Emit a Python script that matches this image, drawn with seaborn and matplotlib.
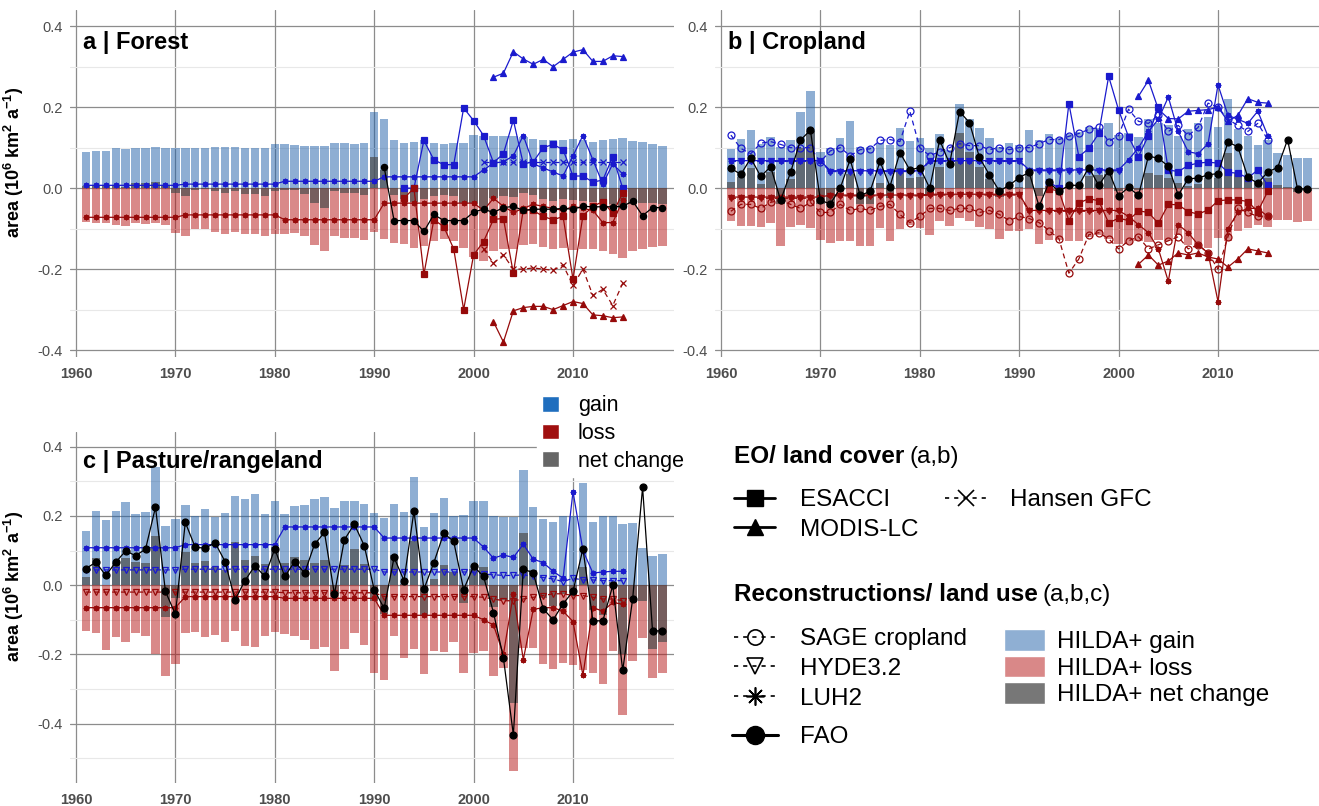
import numpy as np
import pandas as pd
import matplotlib.pyplot as plt
import seaborn as sns
from matplotlib.lines import Line2D
from matplotlib.patches import Patch

# ---------------- data (10^6 km2 per year) ----------------
years = list(range(1961, 2020))
xticks = [1960, 1970, 1980, 1990, 2000, 2010]
yticks = [-0.4, -0.2, 0.0, 0.2, 0.4]
ytick_labels = ['-0.4', '-0.2', '0.0', '0.2', '0.4']

# HILDA+ bars, panel a (forest)
gain_a = [0.090, 0.093, 0.093, 0.098, 0.097, 0.098, 0.100, 0.101, 0.100, 0.098,
          0.099, 0.098, 0.099, 0.101, 0.102, 0.102, 0.099, 0.100, 0.099, 0.108,
          0.108, 0.106, 0.105, 0.103, 0.105, 0.111, 0.111, 0.110, 0.111, 0.187,
          0.170, 0.118, 0.111, 0.113, 0.118, 0.111, 0.109, 0.112, 0.111, 0.132,
          0.130, 0.130, 0.130, 0.128, 0.127, 0.122, 0.118, 0.118, 0.120, 0.122,
          0.118, 0.115, 0.120, 0.122, 0.124, 0.117, 0.114, 0.108, 0.105]
loss_a = [-0.084, -0.085, -0.086, -0.090, -0.094, -0.086, -0.088, -0.087, -0.092, -0.111,
          -0.118, -0.102, -0.102, -0.109, -0.113, -0.109, -0.114, -0.114, -0.118, -0.114,
          -0.112, -0.110, -0.119, -0.140, -0.154, -0.119, -0.122, -0.122, -0.128, -0.109,
          -0.125, -0.136, -0.137, -0.148, -0.144, -0.130, -0.126, -0.131, -0.147, -0.169,
          -0.179, -0.154, -0.150, -0.150, -0.140, -0.138, -0.145, -0.150, -0.148, -0.152,
          -0.150, -0.150, -0.155, -0.162, -0.173, -0.155, -0.150, -0.145, -0.144]
net_a = [0.006, 0.008, 0.007, 0.008, 0.003, 0.012, 0.012, 0.014, 0.008, -0.013,
         -0.019, -0.004, -0.003, -0.008, -0.011, -0.007, -0.015, -0.014, -0.019, -0.006,
         -0.004, -0.004, -0.014, -0.037, -0.049, -0.008, -0.011, -0.012, -0.017, 0.078,
         0.045, -0.018, -0.026, -0.035, -0.026, -0.019, -0.017, -0.019, -0.036, -0.037,
         -0.049, -0.024, -0.020, -0.022, -0.013, -0.016, -0.027, -0.032, -0.028, -0.030,
         -0.032, -0.035, -0.035, -0.040, -0.049, -0.038, -0.036, -0.037, -0.039]

# HILDA+ bars, panel b (cropland)
gain_b = [0.096, 0.121, 0.143, 0.108, 0.126, 0.102, 0.120, 0.189, 0.239, 0.089,
          0.098, 0.123, 0.166, 0.102, 0.102, 0.111, 0.107, 0.149, 0.117, 0.125,
          0.098, 0.134, 0.094, 0.209, 0.172, 0.148, 0.125, 0.102, 0.111, 0.107,
          0.143, 0.119, 0.133, 0.123, 0.133, 0.139, 0.152, 0.148, 0.160, 0.131,
          0.137, 0.127, 0.170, 0.160, 0.157, 0.128, 0.145, 0.160, 0.175, 0.150,
          0.219, 0.145, 0.128, 0.107, 0.120, 0.087, 0.083, 0.074, 0.074]
loss_b = [-0.080, -0.094, -0.094, -0.097, -0.086, -0.142, -0.097, -0.090, -0.098, -0.127,
          -0.135, -0.131, -0.130, -0.142, -0.142, -0.098, -0.131, -0.100, -0.092, -0.098,
          -0.115, -0.082, -0.094, -0.074, -0.082, -0.096, -0.102, -0.125, -0.105, -0.105,
          -0.100, -0.138, -0.127, -0.127, -0.130, -0.130, -0.121, -0.115, -0.125, -0.139,
          -0.137, -0.131, -0.132, -0.128, -0.131, -0.116, -0.140, -0.149, -0.149, -0.124,
          -0.131, -0.107, -0.099, -0.091, -0.095, -0.079, -0.079, -0.083, -0.081]
net_b = [0.016, 0.027, 0.049, 0.011, 0.040, -0.040, 0.023, 0.099, 0.141, -0.038,
         -0.037, -0.008, 0.036, -0.040, -0.040, 0.013, -0.024, 0.049, 0.025, 0.027,
         -0.017, 0.052, 0.000, 0.135, 0.090, 0.052, 0.023, -0.023, 0.006, 0.002,
         0.043, -0.019, 0.006, -0.004, 0.003, 0.009, 0.031, 0.033, 0.035, -0.008,
         0.000, -0.004, 0.038, 0.032, 0.026, 0.012, 0.005, 0.011, 0.026, 0.026,
         0.088, 0.038, 0.029, 0.016, 0.025, 0.008, 0.004, -0.009, -0.007]

# HILDA+ bars, panel c (pasture/rangeland)
gain_c = [0.155, 0.215, 0.187, 0.213, 0.241, 0.206, 0.211, 0.341, 0.170, 0.191,
          0.232, 0.200, 0.221, 0.197, 0.208, 0.257, 0.250, 0.263, 0.206, 0.243,
          0.205, 0.228, 0.230, 0.248, 0.253, 0.222, 0.242, 0.242, 0.234, 0.208,
          0.193, 0.235, 0.212, 0.313, 0.169, 0.208, 0.251, 0.200, 0.203, 0.244,
          0.243, 0.201, 0.196, 0.196, 0.333, 0.225, 0.190, 0.183, 0.200, 0.200,
          0.296, 0.181, 0.200, 0.200, 0.177, 0.179, 0.107, 0.085, 0.090]
loss_c = [-0.132, -0.137, -0.187, -0.149, -0.164, -0.139, -0.146, -0.200, -0.261, -0.228,
          -0.137, -0.136, -0.151, -0.144, -0.163, -0.132, -0.176, -0.179, -0.146, -0.134,
          -0.140, -0.146, -0.158, -0.184, -0.179, -0.247, -0.184, -0.138, -0.173, -0.254,
          -0.275, -0.148, -0.209, -0.185, -0.257, -0.189, -0.194, -0.163, -0.254, -0.196,
          -0.191, -0.263, -0.239, -0.536, -0.182, -0.182, -0.227, -0.242, -0.225, -0.230,
          -0.244, -0.254, -0.285, -0.191, -0.376, -0.218, -0.153, -0.268, -0.254]
net_c = [0.023, 0.078, 0.000, 0.064, 0.077, 0.067, 0.065, 0.141, -0.091, -0.037,
         0.095, 0.064, 0.070, 0.053, 0.045, 0.125, 0.074, 0.084, 0.060, 0.109,
         0.065, 0.082, 0.072, 0.064, 0.074, -0.025, 0.058, 0.104, 0.061, -0.046,
         -0.082, 0.087, 0.003, 0.128, -0.088, 0.019, 0.057, 0.037, -0.051, 0.048,
         0.052, -0.062, -0.043, -0.340, 0.151, 0.043, -0.037, -0.059, -0.025, -0.030,
         0.052, -0.073, -0.085, 0.009, -0.199, -0.039, -0.046, -0.183, -0.164]

# year ranges of the other data sets
yrs_luh = list(range(1961, 2016))
yrs_hyde_b = list(range(1961, 2001))
yrs_esa = list(range(1993, 2016))
yrs_modis = list(range(2002, 2016))
yrs_hansen = list(range(2001, 2016))
yrs_fao_a = list(range(1991, 2020))

# panel a lines
luh_gain_a = [0.007, 0.007, 0.007, 0.007, 0.007, 0.007, 0.007, 0.007, 0.007, 0.007,
              0.010, 0.010, 0.010, 0.010, 0.010, 0.010, 0.010, 0.010, 0.010, 0.010,
              0.017, 0.017, 0.017, 0.017, 0.017, 0.017, 0.017, 0.017, 0.017, 0.017,
              0.028, 0.028, 0.028, 0.028, 0.028, 0.028, 0.028, 0.028, 0.028, 0.028,
              0.045, 0.062, 0.065, 0.080, 0.130, 0.060, 0.050, 0.040, 0.030, 0.080,
              0.130, 0.070, 0.010, 0.060, 0.035]
luh_loss_a = [-0.072, -0.072, -0.072, -0.072, -0.072, -0.072, -0.072, -0.072, -0.072, -0.072,
              -0.066, -0.066, -0.066, -0.066, -0.066, -0.066, -0.066, -0.066, -0.066, -0.066,
              -0.078, -0.078, -0.078, -0.078, -0.078, -0.078, -0.078, -0.078, -0.078, -0.078,
              -0.037, -0.037, -0.037, -0.037, -0.037, -0.037, -0.037, -0.037, -0.037, -0.037,
              -0.055, -0.025, -0.045, -0.060, -0.050, -0.040, -0.045, -0.050, -0.055, -0.045,
              -0.050, -0.055, -0.085, -0.085, -0.030]
hansen_gain_a = [0.065, 0.065, 0.065, 0.065, 0.065, 0.065, 0.065, 0.065, 0.065, 0.065,
                 0.065, 0.065, 0.065, 0.065, 0.065]
hansen_loss_a = [-0.150, -0.185, -0.165, -0.200, -0.200, -0.197, -0.200, -0.203, -0.190, -0.240,
                 -0.200, -0.265, -0.250, -0.290, -0.235]
esa_gain_a = [0.000, 0.000, 0.118, 0.070, 0.058, 0.058, 0.198, 0.167, 0.130, 0.063,
              0.085, 0.168, 0.060, 0.065, 0.100, 0.108, 0.095, 0.030, 0.030, 0.015,
              0.020, 0.078, 0.000]
esa_loss_a = [-0.025, 0.000, -0.213, -0.078, -0.095, -0.150, -0.300, -0.165, -0.132, -0.077,
              -0.075, -0.210, -0.053, -0.055, -0.070, -0.078, -0.070, -0.225, -0.068, -0.045,
              -0.033, -0.062, -0.012]
modis_gain_a = [0.274, 0.284, 0.337, 0.319, 0.306, 0.318, 0.300, 0.318, 0.336, 0.342,
                0.313, 0.313, 0.327, 0.325]
modis_loss_a = [-0.330, -0.380, -0.303, -0.295, -0.292, -0.292, -0.300, -0.290, -0.280, -0.285,
                -0.313, -0.315, -0.320, -0.318]
fao_a = [0.052, -0.080, -0.080, -0.080, -0.107, -0.065, -0.080, -0.080, -0.080, -0.059,
         -0.052, -0.060, -0.048, -0.045, -0.055, -0.052, -0.052, -0.052, -0.050, -0.052,
         -0.045, -0.046, -0.046, -0.046, -0.045, -0.032, -0.068, -0.048, -0.048]

# panel b lines
fao_b = [0.049, 0.034, 0.074, 0.029, 0.053, -0.030, 0.039, 0.119, 0.143, -0.030,
         -0.039, 0.000, 0.071, -0.018, -0.008, 0.066, 0.004, 0.088, 0.045, 0.051,
         0.000, 0.119, 0.060, 0.189, 0.162, 0.076, 0.033, -0.007, 0.007, 0.026,
         0.039, -0.045, 0.014, -0.008, 0.007, 0.007, 0.051, 0.007, 0.043, -0.019,
         0.002, -0.018, 0.079, 0.074, 0.054, -0.017, 0.023, 0.025, 0.033, 0.036,
         0.114, 0.102, 0.027, 0.012, 0.040, 0.051, 0.120, -0.002, -0.002]
luh_gain_b = [0.068, 0.068, 0.068, 0.068, 0.068, 0.068, 0.068, 0.068, 0.068, 0.068,
              0.043, 0.043, 0.043, 0.043, 0.043, 0.043, 0.043, 0.043, 0.043, 0.043,
              0.068, 0.068, 0.068, 0.068, 0.068, 0.068, 0.068, 0.068, 0.068, 0.068,
              0.045, 0.045, 0.045, 0.045, 0.045, 0.045, 0.045, 0.045, 0.045, 0.045,
              0.070, 0.100, 0.140, 0.170, 0.225, 0.140, 0.090, 0.085, 0.110, 0.255,
              0.180, 0.170, 0.160, 0.190, 0.130]
luh_loss_b = [-0.022, -0.022, -0.022, -0.022, -0.022, -0.022, -0.022, -0.022, -0.022, -0.022,
              -0.017, -0.017, -0.017, -0.017, -0.017, -0.017, -0.017, -0.017, -0.017, -0.017,
              -0.015, -0.015, -0.015, -0.015, -0.015, -0.015, -0.015, -0.015, -0.015, -0.015,
              -0.055, -0.055, -0.055, -0.055, -0.055, -0.055, -0.055, -0.055, -0.055, -0.055,
              -0.070, -0.090, -0.110, -0.150, -0.230, -0.090, -0.110, -0.140, -0.160, -0.280,
              -0.100, -0.060, -0.050, -0.050, -0.070]
hyde_gain_b = [0.066, 0.066, 0.066, 0.066, 0.066, 0.066, 0.066, 0.066, 0.066, 0.066,
               0.041, 0.041, 0.041, 0.041, 0.041, 0.041, 0.041, 0.041, 0.041, 0.041,
               0.066, 0.066, 0.066, 0.066, 0.066, 0.066, 0.066, 0.066, 0.066, 0.066,
               0.043, 0.043, 0.043, 0.043, 0.043, 0.043, 0.043, 0.043, 0.043, 0.043]
hyde_loss_b = [-0.025, -0.025, -0.025, -0.025, -0.025, -0.025, -0.025, -0.025, -0.025, -0.025,
               -0.019, -0.019, -0.019, -0.019, -0.019, -0.019, -0.019, -0.019, -0.019, -0.019,
               -0.017, -0.017, -0.017, -0.017, -0.017, -0.017, -0.017, -0.017, -0.017, -0.017,
               -0.057, -0.057, -0.057, -0.057, -0.057, -0.057, -0.057, -0.057, -0.057, -0.057]
sage_gain_b = [0.131, 0.098, 0.085, 0.111, 0.115, 0.108, 0.100, 0.100, 0.100, 0.065,
               0.092, 0.100, 0.080, 0.095, 0.097, 0.118, 0.120, 0.115, 0.190, 0.100,
               0.080, 0.090, 0.100, 0.110, 0.105, 0.105, 0.095, 0.100, 0.095, 0.100,
               0.100, 0.110, 0.120, 0.120, 0.128, 0.135, 0.145, 0.150, 0.115, 0.130,
               0.195, 0.165, 0.160, 0.180, 0.140, 0.155, 0.130, 0.150, 0.210, 0.200,
               0.170, 0.155, 0.140, 0.160, 0.120]
sage_loss_b = [-0.057, -0.040, -0.040, -0.050, -0.035, -0.030, -0.040, -0.050, -0.035, -0.060,
               -0.060, -0.040, -0.055, -0.050, -0.055, -0.045, -0.040, -0.065, -0.085, -0.070,
               -0.050, -0.050, -0.055, -0.050, -0.050, -0.060, -0.055, -0.065, -0.080, -0.070,
               -0.075, -0.085, -0.105, -0.125, -0.210, -0.175, -0.115, -0.110, -0.125, -0.150,
               -0.130, -0.120, -0.150, -0.140, -0.130, -0.120, -0.150, -0.140, -0.160, -0.200,
               -0.120, -0.050, -0.060, -0.070, -0.070]
esa_gain_b = [0.015, 0.000, 0.209, 0.078, 0.098, 0.135, 0.276, 0.193, 0.127, 0.078,
              0.130, 0.200, 0.045, 0.041, 0.056, 0.062, 0.064, 0.062, 0.039, 0.037,
              0.025, 0.045, 0.007]
esa_loss_b = [-0.002, -0.007, -0.080, -0.037, -0.026, -0.031, -0.086, -0.074, -0.080, -0.056,
              -0.060, -0.087, -0.040, -0.041, -0.058, -0.064, -0.054, -0.031, -0.029, -0.029,
              -0.033, -0.058, -0.008]
modis_gain_b = [0.227, 0.266, 0.195, 0.172, 0.171, 0.190, 0.192, 0.194, 0.200, 0.165,
                0.180, 0.221, 0.212, 0.210]
modis_loss_b = [-0.188, -0.165, -0.190, -0.180, -0.160, -0.165, -0.160, -0.170, -0.175, -0.195,
                -0.175, -0.150, -0.155, -0.160]

# panel c lines
fao_c = [0.048, 0.066, 0.028, 0.066, 0.099, 0.085, 0.104, 0.225, -0.018, -0.084,
         0.181, 0.109, 0.107, 0.122, 0.068, -0.042, 0.013, 0.056, 0.025, 0.105,
         0.025, 0.068, 0.035, 0.118, 0.152, -0.026, 0.131, 0.176, 0.114, -0.013,
         -0.067, 0.080, 0.013, 0.214, -0.012, 0.065, 0.150, 0.126, -0.013, 0.055,
         0.025, -0.079, -0.210, -0.432, 0.047, 0.035, -0.068, -0.100, -0.054, -0.018,
         0.105, -0.103, -0.103, -0.001, -0.246, -0.040, 0.282, -0.132, -0.132]
luh_gain_c = [0.108, 0.108, 0.108, 0.108, 0.108, 0.108, 0.108, 0.108, 0.108, 0.108,
              0.117, 0.117, 0.117, 0.117, 0.117, 0.117, 0.117, 0.117, 0.117, 0.117,
              0.168, 0.168, 0.168, 0.168, 0.168, 0.168, 0.168, 0.168, 0.168, 0.168,
              0.136, 0.136, 0.136, 0.136, 0.136, 0.136, 0.136, 0.136, 0.136, 0.136,
              0.110, 0.078, 0.087, 0.080, 0.118, 0.075, 0.065, 0.040, 0.020, 0.270,
              0.100, 0.035, 0.038, 0.040, 0.040]
hyde_gain_c = [0.044, 0.044, 0.044, 0.044, 0.044, 0.044, 0.044, 0.044, 0.044, 0.044,
               0.046, 0.046, 0.046, 0.046, 0.046, 0.046, 0.046, 0.046, 0.046, 0.046,
               0.046, 0.046, 0.046, 0.046, 0.046, 0.046, 0.046, 0.046, 0.046, 0.046,
               0.038, 0.038, 0.038, 0.038, 0.038, 0.038, 0.038, 0.038, 0.038, 0.038,
               0.032, 0.030, 0.028, 0.028, 0.030, 0.025, 0.022, 0.018, 0.010, 0.020,
               0.015, 0.015, 0.013, 0.013, 0.013]
luh_loss_c = [-0.065, -0.065, -0.065, -0.065, -0.065, -0.065, -0.065, -0.065, -0.065, -0.065,
              -0.033, -0.033, -0.033, -0.033, -0.033, -0.033, -0.033, -0.033, -0.033, -0.033,
              -0.038, -0.038, -0.038, -0.038, -0.038, -0.038, -0.038, -0.038, -0.038, -0.038,
              -0.087, -0.087, -0.087, -0.087, -0.087, -0.087, -0.087, -0.087, -0.087, -0.087,
              -0.100, -0.115, -0.200, -0.025, -0.215, -0.070, -0.065, -0.065, -0.075, -0.105,
              -0.260, -0.065, -0.075, -0.050, -0.055]
hyde_loss_c = [-0.020, -0.020, -0.020, -0.020, -0.020, -0.020, -0.020, -0.020, -0.020, -0.020,
               -0.020, -0.020, -0.020, -0.020, -0.020, -0.020, -0.020, -0.020, -0.020, -0.020,
               -0.022, -0.022, -0.022, -0.022, -0.022, -0.022, -0.022, -0.022, -0.022, -0.022,
               -0.033, -0.033, -0.033, -0.033, -0.033, -0.033, -0.033, -0.033, -0.033, -0.033,
               -0.035, -0.040, -0.045, -0.045, -0.040, -0.035, -0.030, -0.025, -0.025, -0.030,
               -0.030, -0.035, -0.040, -0.040, -0.045]

# ---------------- styling ----------------
sns.set_theme(style="white")
plt.rcParams['font.family'] = ['Liberation Sans', 'DejaVu Sans']
plt.rcParams['text.color'] = 'black'
plt.rcParams['axes.labelcolor'] = 'black'
plt.rcParams['axes.unicode_minus'] = False
plt.rcParams['mathtext.fontset'] = 'custom'
plt.rcParams['mathtext.rm'] = 'Liberation Sans'
plt.rcParams['mathtext.bf'] = 'Liberation Sans:bold'

GAIN_C = '#1f5fa8'
LOSS_C = '#b41414'
NET_C = '#4d4d4d'
BLUE = '#1a1acd'
RED = '#960a0a'
ASTER = (8, 2, 0)

W, H = 1319, 806
fig = plt.figure(figsize=(W / 100, H / 100), dpi=100)


def box(l, t, r, b):
    return [l / W, 1 - b / H, (r - l) / W, (b - t) / H]


ax_a = fig.add_axes(box(70, 10, 674, 357))
ax_b = fig.add_axes(box(715, 10, 1319, 357))
ax_c = fig.add_axes(box(70, 432, 674, 783))


def draw_bars(ax, gain, loss, net):
    for vals, col, al in [(gain, GAIN_C, 0.5), (loss, LOSS_C, 0.5), (net, NET_C, 0.7)]:
        sns.barplot(x=years, y=vals, ax=ax, native_scale=True, color=col, alpha=al,
                    saturation=1, width=0.85, linewidth=0, errorbar=None, zorder=1)


def add_line(ax, x, y, color, marker, ls='-', hollow=False, ms=4.5, lw=0.9):
    sns.lineplot(x=x, y=y, ax=ax, color=color, marker=marker, linestyle=ls, linewidth=lw,
                 markersize=ms, markeredgecolor=color, markeredgewidth=0.9,
                 markerfacecolor='none' if hollow else color,
                 errorbar=None, legend=False, zorder=5)


def style_axes(ax, ylim, minor, title, title_y):
    ax.set_xlim(1959.4, 2020.16)
    ax.set_ylim(*ylim)
    ax.set_xticks(xticks)
    ax.set_xticklabels([str(t) for t in xticks], fontweight='bold', fontsize=10.5, color='#4d4d4d')
    ax.set_yticks(yticks)
    ax.set_yticklabels(ytick_labels, fontsize=10.5, color='#4d4d4d')
    ax.set_yticks(minor, minor=True)
    ax.grid(which='major', color='#8c8c8c', linewidth=0.9)
    ax.grid(which='minor', axis='y', color='#e8e8e8', linewidth=0.8)
    ax.set_axisbelow(True)
    for s in ax.spines.values():
        s.set_visible(False)
    ax.tick_params(which='both', length=0)
    ax.tick_params(axis='x', pad=7)
    ax.tick_params(axis='y', pad=5)
    ax.set_xlabel('')
    ax.set_ylabel('')
    ax.text(0.022, title_y, title, transform=ax.transAxes, fontsize=17, fontweight='bold',
            color='black', va='center', ha='left', zorder=10)


ylab = r'area (10$^{\mathbf{6}}$ km$^{\mathbf{2}}$ a$^{\mathbf{-1}}$)'

# ---- a | Forest
draw_bars(ax_a, gain_a, loss_a, net_a)
add_line(ax_a, yrs_luh, luh_gain_a, BLUE, ASTER, ms=4)
add_line(ax_a, yrs_luh, luh_loss_a, RED, ASTER, ms=4)
add_line(ax_a, yrs_hansen, hansen_gain_a, BLUE, 'x', ls=(0, (4, 3)), ms=4)
add_line(ax_a, yrs_hansen, hansen_loss_a, RED, 'x', ls=(0, (4, 3)), ms=4)
add_line(ax_a, yrs_esa, esa_gain_a, BLUE, 's')
add_line(ax_a, yrs_esa, esa_loss_a, RED, 's')
add_line(ax_a, yrs_modis, modis_gain_a, BLUE, '^', ms=5)
add_line(ax_a, yrs_modis, modis_loss_a, RED, '^', ms=5)
add_line(ax_a, yrs_fao_a, fao_a, 'black', 'o')
style_axes(ax_a, (-0.417, 0.44), [-0.3, -0.1, 0.1, 0.3], 'a | Forest', 0.905)
ax_a.set_ylabel(ylab, fontsize=13, fontweight='bold')
ax_a.yaxis.set_label_coords(-0.073, 0.56)

# ---- b | Cropland
draw_bars(ax_b, gain_b, loss_b, net_b)
add_line(ax_b, yrs_hyde_b, hyde_gain_b, BLUE, 'v', ls=(0, (4, 3)), hollow=True, ms=4)
add_line(ax_b, yrs_hyde_b, hyde_loss_b, RED, 'v', ls=(0, (4, 3)), hollow=True, ms=4)
add_line(ax_b, yrs_luh, luh_gain_b, BLUE, ASTER, ms=4)
add_line(ax_b, yrs_luh, luh_loss_b, RED, ASTER, ms=4)
add_line(ax_b, yrs_luh, sage_gain_b, BLUE, 'o', ls=(0, (4, 3)), hollow=True, ms=5)
add_line(ax_b, yrs_luh, sage_loss_b, RED, 'o', ls=(0, (4, 3)), hollow=True, ms=5)
add_line(ax_b, yrs_esa, esa_gain_b, BLUE, 's')
add_line(ax_b, yrs_esa, esa_loss_b, RED, 's')
add_line(ax_b, yrs_modis, modis_gain_b, BLUE, '^', ms=5)
add_line(ax_b, yrs_modis, modis_loss_b, RED, '^', ms=5)
add_line(ax_b, years, fao_b, 'black', 'o', ms=5)
style_axes(ax_b, (-0.417, 0.44), [-0.3, -0.1, 0.1, 0.3], 'b | Cropland', 0.905)

# ---- c | Pasture/rangeland
draw_bars(ax_c, gain_c, loss_c, net_c)
add_line(ax_c, yrs_luh, hyde_gain_c, BLUE, 'v', ls=(0, (4, 3)), hollow=True, ms=4)
add_line(ax_c, yrs_luh, hyde_loss_c, RED, 'v', ls=(0, (4, 3)), hollow=True, ms=4)
add_line(ax_c, yrs_luh, luh_gain_c, BLUE, ASTER, ms=4)
add_line(ax_c, yrs_luh, luh_loss_c, RED, ASTER, ms=4)
add_line(ax_c, years, fao_c, 'black', 'o', ms=5)
style_axes(ax_c, (-0.571, 0.442), [-0.5, -0.3, -0.1, 0.1, 0.3], 'c | Pasture/rangeland', 0.916)
ax_c.set_ylabel(ylab, fontsize=13, fontweight='bold')
ax_c.yaxis.set_label_coords(-0.073, 0.56)

# ---------------- legends ----------------
small = [Patch(facecolor='#1f6ebe', label='gain'),
         Patch(facecolor='#a00f0f', label='loss'),
         Patch(facecolor='#666666', label='net change')]
fig.legend(handles=small, loc='upper left', bbox_to_anchor=(537 / W, 1 - 390 / H),
           fontsize=15.5, frameon=True, facecolor='white', edgecolor='white', framealpha=1,
           handlelength=0.75, handleheight=0.75, handletextpad=0.9, labelspacing=0.31,
           borderpad=0.25, borderaxespad=0, fancybox=False)

LEG_FS = 17.5
fig.canvas.draw()
renderer = fig.canvas.get_renderer()


def group_title(bold, normal, x_px, y_px):
    t = fig.text(x_px / W, 1 - y_px / H, bold, fontsize=LEG_FS, fontweight='bold', va='baseline')
    bb = t.get_window_extent(renderer)
    fig.text(bb.x1 / W + 5 / W, 1 - y_px / H, normal, fontsize=LEG_FS, va='baseline')


group_title('EO/ land cover', '(a,b)', 734, 463)
group_title('Reconstructions/ land use', '(a,b,c)', 734, 601)

dash = (0, (2.5, 3))
eo = [Line2D([], [], color='black', lw=2, marker='s', ms=11, label='ESACCI'),
      Line2D([], [], color='black', lw=2, marker='^', ms=12, label='MODIS-LC'),
      Line2D([], [], color='black', lw=1.2, ls=dash, marker='x', ms=11, mew=1.2, label='Hansen GFC'),
      Line2D([], [], alpha=0, label=' ')]
fig.legend(handles=eo, loc='upper left', bbox_to_anchor=(734 / W, 1 - 489 / H), ncol=2,
           fontsize=LEG_FS, frameon=False, handlelength=1.7, handletextpad=1.0,
           columnspacing=1.1, labelspacing=0.32, borderpad=0, borderaxespad=0)

rec = [Line2D([], [], color='black', lw=1.2, ls=dash, marker='o', ms=11, mfc='none', mew=1.2, label='SAGE cropland'),
       Line2D([], [], color='black', lw=1.2, ls=dash, marker='v', ms=12, mfc='none', mew=1.2, label='HYDE3.2'),
       Line2D([], [], color='black', lw=1.2, ls=dash, marker=ASTER, ms=13, mew=1.2, label='LUH2')]
fig.legend(handles=rec, loc='upper left', bbox_to_anchor=(734 / W, 1 - 628 / H),
           fontsize=LEG_FS, frameon=False, handlelength=1.7, handletextpad=1.0,
           labelspacing=0.32, borderpad=0, borderaxespad=0)

fao_h = [Line2D([], [], color='black', lw=2.2, marker='o', ms=13, label='FAO')]
fig.legend(handles=fao_h, loc='upper left', bbox_to_anchor=(732 / W, 1 - 726 / H),
           fontsize=LEG_FS, frameon=False, handlelength=1.9, handletextpad=0.9,
           borderpad=0, borderaxespad=0)

hilda = [Patch(facecolor='#8fafd3', label='HILDA+ gain'),
         Patch(facecolor='#d98888', label='HILDA+ loss'),
         Patch(facecolor='#777777', label='HILDA+ net change')]
fig.legend(handles=hilda, loc='upper left', bbox_to_anchor=(1004 / W, 1 - 629 / H),
           fontsize=LEG_FS, frameon=False, handlelength=1.7, handleheight=1.0,
           handletextpad=0.5, labelspacing=0.1, borderpad=0, borderaxespad=0)

fig.savefig('out.png', dpi=100)
